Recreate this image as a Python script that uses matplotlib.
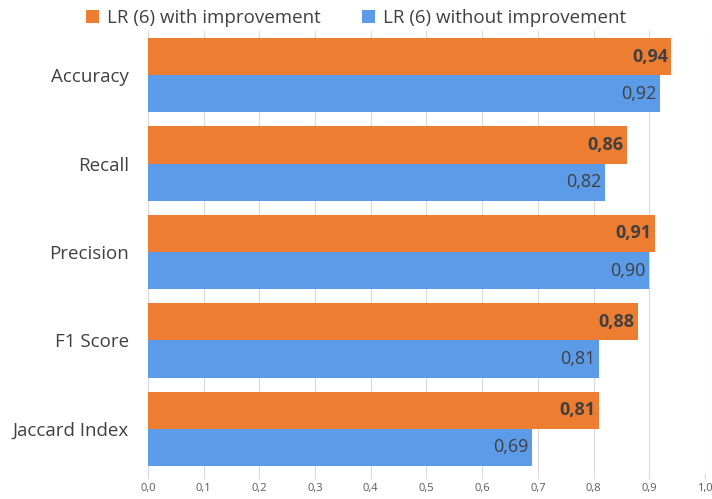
import matplotlib.pyplot as plt
import numpy as np
from matplotlib.ticker import FuncFormatter

plt.rcParams['font.family'] = ['Open Sans', 'DejaVu Sans']

categories = ['Accuracy', 'Recall', 'Precision', 'F1 Score', 'Jaccard Index']
with_improvement = [0.94, 0.86, 0.91, 0.88, 0.81]
without_improvement = [0.92, 0.82, 0.90, 0.81, 0.69]
series_names = ['LR (6) with improvement', 'LR (6) without improvement']

orange = '#ED7D31'
blue = '#5B9BE8'

fig = plt.figure(figsize=(7.12, 4.99), dpi=100)
ax = fig.add_axes([0.208, 0.052, 0.782, 0.886])

y = np.arange(len(categories))
h = 0.42
b1 = ax.barh(y - h / 2, with_improvement, height=h, color=orange, label=series_names[0], zorder=3)
b2 = ax.barh(y + h / 2, without_improvement, height=h, color=blue, label=series_names[1], zorder=3)

for bar, v in zip(b1, with_improvement):
    ax.text(v - 0.006, bar.get_y() + bar.get_height() / 2, f'{v:.2f}'.replace('.', ','),
            ha='right', va='center', fontsize=13, fontweight='bold', color='#404040', zorder=4)
for bar, v in zip(b2, without_improvement):
    ax.text(v - 0.006, bar.get_y() + bar.get_height() / 2, f'{v:.2f}'.replace('.', ','),
            ha='right', va='center', fontsize=13, color='#404040', zorder=4)

ax.set_ylim(len(categories) - 0.5, -0.5)
ax.set_xlim(0, 1.0)
ax.set_yticks(y)
ax.set_yticklabels(categories, fontsize=13.5, color='#404040')
ax.set_xticks(np.arange(0, 1.01, 0.1))
ax.xaxis.set_major_formatter(FuncFormatter(lambda v, p: f'{v:.1f}'.replace('.', ',')))
ax.tick_params(axis='x', labelsize=8, colors='#595959', length=4, width=0.8, color='#D9D9D9', pad=3)
ax.tick_params(axis='y', length=0, pad=14)
ax.grid(axis='x', color='#D9D9D9', linewidth=0.8, zorder=0)
for s in ['top', 'right', 'bottom']:
    ax.spines[s].set_visible(False)
ax.spines['left'].set_color('#D9D9D9')

fig.legend(loc='upper center', bbox_to_anchor=(0.5, 1.015), ncol=2, frameon=False,
           fontsize=13.5, handlelength=0.7, handleheight=0.7, columnspacing=2.2,
           handletextpad=0.4, labelcolor='#404040')

fig.savefig('out.png', dpi=100)
